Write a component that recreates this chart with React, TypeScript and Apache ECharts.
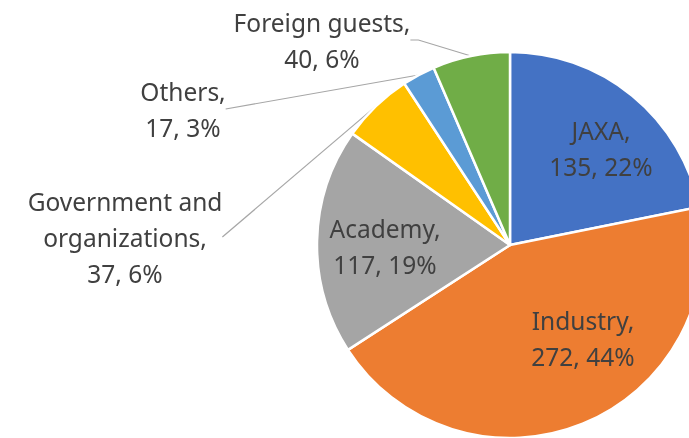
import React, { useEffect, useRef } from "react";
import * as echarts from "echarts";

const categories = ["JAXA", "Industry", "Academy", "Government and organizations", "Others", "Foreign guests"];
const values = [135, 272, 117, 37, 17, 40];
const colors = ["#4472C4", "#ED7D31", "#A5A5A5", "#FFC000", "#5B9BD5", "#70AD47"];
const outside = [false, false, false, true, true, true];
const stub = [0, 0, 0, 0, 0, 8];
// label anchor positions (layout)
const labelPos: [number, number][] = [
  [601, 148],
  [583, 338],
  [385, 246],
  [125, 237],
  [183, 109],
  [322, 40],
];

export default function App() {
  const ref = useRef<HTMLDivElement>(null);
  useEffect(() => {
    if (!ref.current) return;
    const chart = echarts.init(ref.current, undefined, { renderer: "svg" });
    chart.setOption({
      animation: false,
      textStyle: { fontFamily: "Noto Sans" },
      series: [
        {
          type: "pie",
          center: [510, 245],
          radius: [0, 193],
          startAngle: 90,
          clockwise: true,
          percentPrecision: 0,
          avoidLabelOverlap: false,
          itemStyle: { borderColor: "#ffffff", borderWidth: 2.5 },
          label: {
            show: true,
            position: "inside",
            color: "#404040",
            fontSize: 24.5,
            lineHeight: 36,
            fontFamily: "Noto Sans",
            align: "center",
            formatter: (p: any) =>
              `${String(p.name).replace("and ", "and\n")},\n${p.value}, ${p.percent}%`,
          },
          labelLine: { show: false },
          labelLayout: (p: any) => {
            const pos = labelPos[p.dataIndex];
            return { x: pos[0], y: pos[1], align: "center", verticalAlign: "middle" };
          },
          data: categories.map((name, i) => ({
            name,
            value: values[i],
            itemStyle: { color: colors[i] },
            label: outside[i] ? { position: "outside" } : undefined,
            labelLine: outside[i]
              ? { show: true, length: 0, length2: stub[i], smooth: false, lineStyle: { color: "#A6A6A6", width: 1.2 } }
              : { show: false },
          })),
        },
      ],
    });
    return () => chart.dispose();
  }, []);
  return <div ref={ref} style={{ position: "fixed", left: 0, top: 0, width: 689, height: 438 }} />;
}
